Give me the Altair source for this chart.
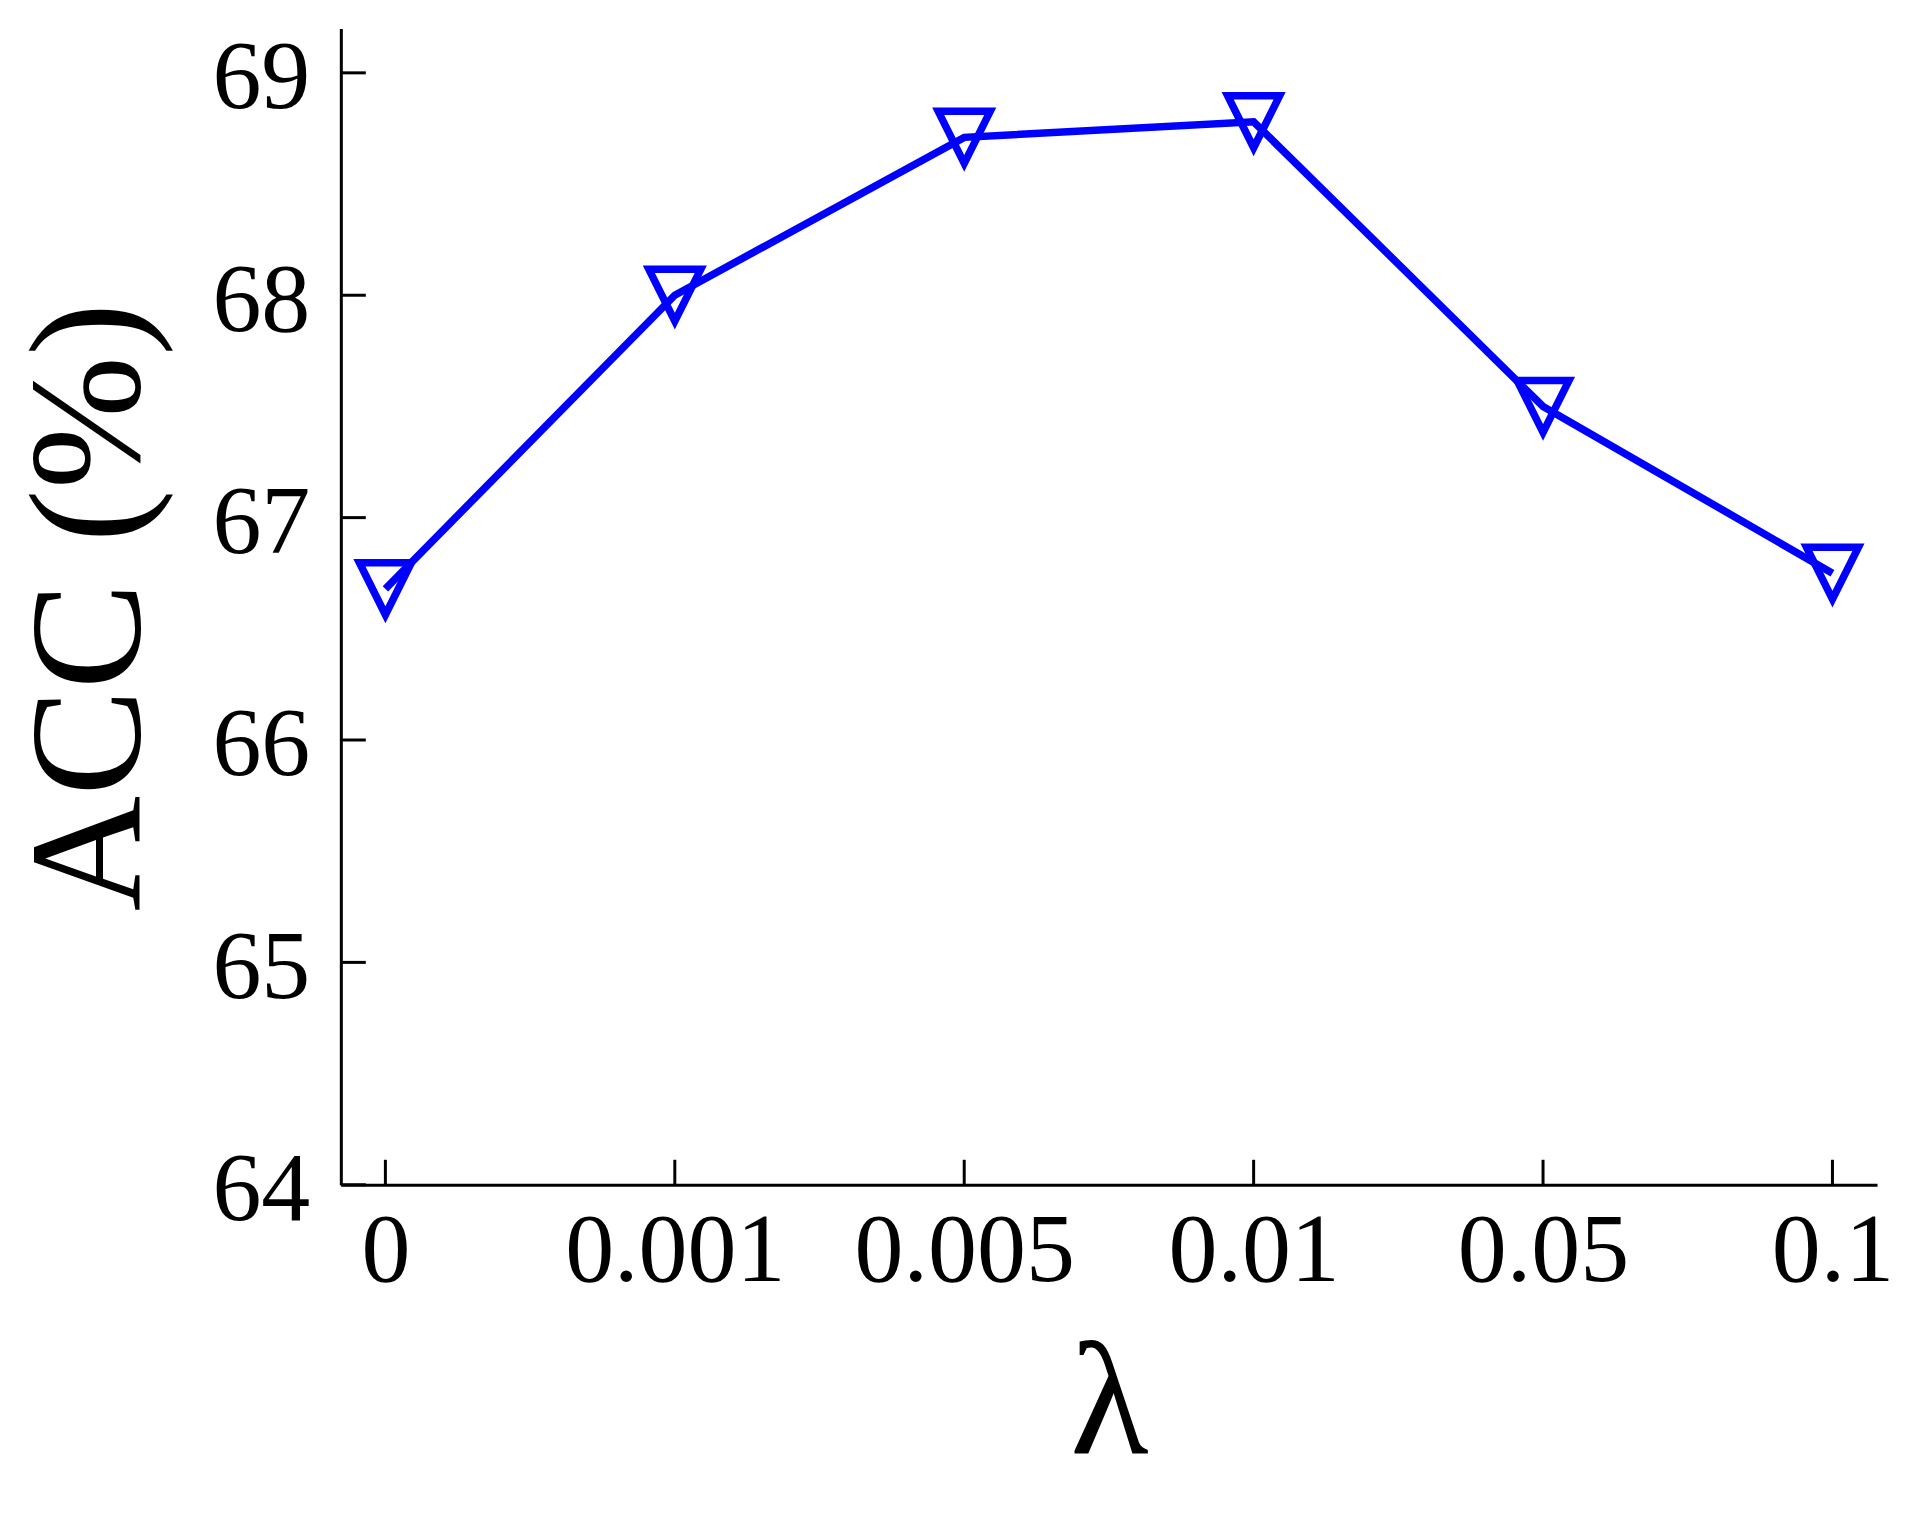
import altair as alt
import pandas as pd

# values
lam_labels = ["0", "0.001", "0.005", "0.01", "0.05", "0.1"]
acc_values = [66.68, 68.0, 68.71, 68.78, 67.5, 66.75]
y_tick_values = [64, 65, 66, 67, 68, 69]

W, H = 1537, 1157
FONT = "Liberation Serif"
BLUE = "#0000ff"

df = pd.DataFrame({"lam": lam_labels, "acc": acc_values})
yticks_df = pd.DataFrame({"v": y_tick_values})
xticks_df = pd.DataFrame({"lam": lam_labels})

x_scale = alt.Scale(type="point", padding=0.154)
y_scale = alt.Scale(domain=[64, 69.2], nice=False, zero=False)

x_axis = alt.Axis(
    title="λ",
    labelAngle=0,
    labelFontSize=98,
    labelFont=FONT,
    labelColor="black",
    labelPadding=19,
    labelLimit=1000,
    labelOverlap=False,
    ticks=False,
    tickSize=0,
    grid=False,
    domainColor="black",
    domainWidth=3,
    titleFont=FONT,
    titleFontSize=162,
    titleFontWeight="normal",
    titleColor="black",
    titlePadding=24,
)

y_axis = alt.Axis(
    title="ACC (%)",
    values=y_tick_values,
    format="d",
    labelFontSize=98,
    labelFont=FONT,
    labelColor="black",
    labelPadding=31,
    labelOffset=6,
    labelLimit=1000,
    labelOverlap=False,
    ticks=False,
    tickSize=0,
    grid=False,
    domainColor="black",
    domainWidth=3,
    titleFont=FONT,
    titleFontSize=160,
    titleFontWeight="normal",
    titleColor="black",
    titlePadding=39,
)

line = alt.Chart(df).mark_line(color=BLUE, strokeWidth=7.5).encode(
    x=alt.X("lam:N", sort=lam_labels, scale=x_scale, axis=x_axis),
    y=alt.Y("acc:Q", scale=y_scale, axis=y_axis),
)

points = alt.Chart(df).mark_point(
    shape="M-1,-1L1,-1L0,1Z",
    size=2704,
    filled=False,
    color=BLUE,
    strokeWidth=7.5,
    opacity=1,
).encode(
    x=alt.X("lam:N", sort=lam_labels, scale=x_scale),
    y=alt.Y("acc:Q", scale=y_scale),
)

yticks = alt.Chart(yticks_df).mark_rule(color="black", strokeWidth=3).encode(
    y=alt.Y("v:Q", scale=y_scale),
    x=alt.value(0),
    x2=alt.value(25),
)

xticks = alt.Chart(xticks_df).mark_rule(color="black", strokeWidth=3).encode(
    x=alt.X("lam:N", sort=lam_labels, scale=x_scale),
    y=alt.value(H - 25),
    y2=alt.value(H),
)

chart = (
    alt.layer(line, points, yticks, xticks)
    .properties(
        width=W,
        height=H,
        autosize=alt.AutoSizeParams(type="none"),
        padding={"left": 333, "top": 20, "right": 40, "bottom": 300},
        background="white",
    )
    .configure_view(stroke=None)
)

chart.save("out.html", embed_options={"renderer": "svg", "actions": False})
